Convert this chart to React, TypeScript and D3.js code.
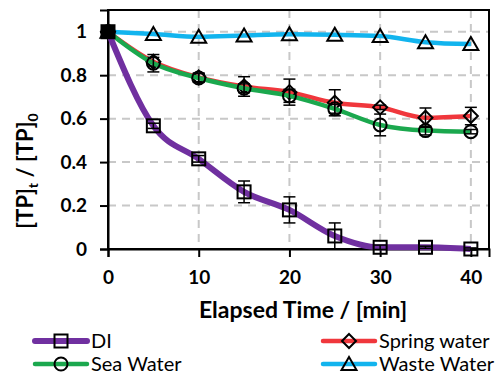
import React, { useEffect, useRef } from "react";
import * as d3 from "d3";

const times = [0, 5, 10, 15, 20, 25, 30, 35, 40];
const seriesNames = ["DI", "Sea Water", "Spring water", "Waste Water"];
const diValues = [1, 0.567, 0.415, 0.263, 0.18, 0.06, 0.008, 0.008, 0.0];
const diErrors = [0, 0.012, 0.015, 0.05, 0.06, 0.06, 0.01, 0.005, 0.005];
const seaValues = [1, 0.855, 0.787, 0.74, 0.705, 0.645, 0.571, 0.545, 0.54];
const seaErrors = [0, 0.04, 0.02, 0.02, 0.03, 0.02, 0.05, 0.02, 0.01];
const springValues = [1, 0.862, 0.79, 0.748, 0.722, 0.673, 0.652, 0.604, 0.612];
const springErrors = [0, 0.02, 0.02, 0.045, 0.06, 0.06, 0.01, 0.045, 0.04];
const wasteValues = [1, 0.99, 0.977, 0.983, 0.988, 0.986, 0.98, 0.952, 0.943];
const yTicks = [0, 0.2, 0.4, 0.6, 0.8, 1];
const xTicks = [0, 10, 20, 30, 40];

const colors = ["#7030A0", "#1BA84E", "#F0373C", "#12B4EE"];
const markers = ["square", "circle", "diamond", "triangle"];
const lineWidths = [6, 4.5, 4.5, 4.5];

function App() {
    const chart = useRef(null);

    useEffect(() => {
        const margin = { top: 10, right: 14, bottom: 126, left: 108 };
        const width = 503 - margin.left - margin.right;
        const height = 375 - margin.top - margin.bottom;
        const font = "Lato, 'Open Sans', sans-serif";

        const root = d3.select(chart.current)
            .attr("width", 503)
            .attr("height", 375);
        const svg = root.append("g")
            .attr("transform", "translate(" + margin.left + "," + margin.top + ")");

        const x = d3.scaleLinear().domain([0, 42]).range([0, width]);
        const y = d3.scaleLinear().domain([0, 1.1]).range([height, 0]);

        // grid
        svg.selectAll(".hgrid")
            .data(yTicks.filter(d => d > 0))
            .enter()
            .append("line")
            .attr("x1", 0).attr("x2", width)
            .attr("y1", d => y(d)).attr("y2", d => y(d))
            .attr("stroke", "#c8c8c8").attr("stroke-width", 2)
            .attr("stroke-dasharray", "8,6");
        svg.selectAll(".vgrid")
            .data(xTicks.filter(d => d > 0))
            .enter()
            .append("line")
            .attr("x1", d => x(d)).attr("x2", d => x(d))
            .attr("y1", 0).attr("y2", height)
            .attr("stroke", "#c8c8c8").attr("stroke-width", 2)
            .attr("stroke-dasharray", "8,6");

        // box
        svg.append("rect")
            .attr("width", width).attr("height", height)
            .attr("fill", "none").attr("stroke", "#000").attr("stroke-width", 2);

        // axes
        const yAxis = svg.append("g")
            .call(d3.axisLeft(y).tickValues(yTicks).tickSize(8).tickPadding(13).tickFormat(d => String(d)));
        const xAxis = svg.append("g")
            .attr("transform", "translate(0," + height + ")")
            .call(d3.axisBottom(x).tickValues(xTicks).tickSize(8).tickPadding(14));
        [yAxis, xAxis].forEach(ax => {
            ax.select(".domain").attr("stroke-width", 2);
            ax.selectAll(".tick line").attr("stroke-width", 2);
            ax.selectAll("text")
                .attr("font-family", font).attr("font-weight", "bold")
                .attr("font-size", 19).attr("fill", "#000");
        });

        // titles
        root.append("text")
            .attr("x", 303).attr("y", 318)
            .attr("text-anchor", "middle")
            .attr("font-family", font).attr("font-weight", "bold").attr("font-size", 23)
            .text("Elapsed Time / [min]");
        const yt = root.append("text")
            .attr("transform", "translate(33,171) rotate(-90)")
            .attr("text-anchor", "middle")
            .attr("font-family", font).attr("font-weight", "bold").attr("font-size", 22);
        yt.append("tspan").text("[TP]");
        yt.append("tspan").attr("font-size", 14).attr("dy", 5).text("t");
        yt.append("tspan").attr("dy", -5).text(" / [TP]");
        yt.append("tspan").attr("font-size", 14).attr("dy", 5).text("0");

        const allValues = [diValues, seaValues, springValues, wasteValues];
        const allErrors = [diErrors, seaErrors, springErrors, null];

        const drawMarker = (g, type, cx, cy, fill) => {
            if (type === "square") {
                g.append("rect").attr("x", cx - 6.5).attr("y", cy - 6.5)
                    .attr("width", 13).attr("height", 13)
                    .attr("fill", fill).attr("stroke", "#000").attr("stroke-width", 2);
            } else if (type === "circle") {
                g.append("circle").attr("cx", cx).attr("cy", cy).attr("r", 6.5)
                    .attr("fill", fill).attr("stroke", "#000").attr("stroke-width", 2);
            } else if (type === "diamond") {
                g.append("path")
                    .attr("d", `M${cx},${cy - 7}L${cx + 7},${cy}L${cx},${cy + 7}L${cx - 7},${cy}Z`)
                    .attr("fill", fill).attr("stroke", "#000").attr("stroke-width", 2);
            } else {
                g.append("path")
                    .attr("d", `M${cx},${cy - 7}L${cx + 7.5},${cy + 6}L${cx - 7.5},${cy + 6}Z`)
                    .attr("fill", fill).attr("stroke", "#000").attr("stroke-width", 2);
            }
        };

        const line = d3.line()
            .x((d, i) => x(times[i]))
            .y(d => y(d))
            .curve(d3.curveMonotoneX);

        // draw in order: waste, spring, sea, DI on top
        [3, 2, 1, 0].forEach(s => {
            const g = svg.append("g");
            g.append("path")
                .datum(allValues[s])
                .attr("d", line)
                .attr("fill", "none")
                .attr("stroke", colors[s])
                .attr("stroke-width", lineWidths[s])
                .attr("stroke-linejoin", "round");
            const errs = allErrors[s];
            if (errs) {
                allValues[s].forEach((v, i) => {
                    if (!errs[i]) return;
                    const cx = x(times[i]);
                    const y0 = y(v - errs[i]);
                    const y1 = y(v + errs[i]);
                    g.append("line").attr("x1", cx).attr("x2", cx).attr("y1", y0).attr("y2", y1)
                        .attr("stroke", "#000").attr("stroke-width", 1.5);
                    [y0, y1].forEach(yy => g.append("line")
                        .attr("x1", cx - 6).attr("x2", cx + 6).attr("y1", yy).attr("y2", yy)
                        .attr("stroke", "#000").attr("stroke-width", 1.5));
                });
            }
            allValues[s].forEach((v, i) => {
                drawMarker(g, markers[s], x(times[i]), y(v), i === 0 ? "#000" : "none");
            });
        });

        // legend
        const legendPos = [[35, 341], [35, 364], [323, 341], [323, 364]];
        seriesNames.forEach((name, s) => {
            const [lx, ly] = legendPos[s];
            const g = root.append("g");
            g.append("line").attr("x1", lx).attr("x2", lx + 52).attr("y1", ly).attr("y2", ly)
                .attr("stroke", colors[s]).attr("stroke-width", lineWidths[s])
                .attr("stroke-linecap", "round");
            drawMarker(g, markers[s], lx + 26, ly, "none");
            g.append("text")
                .attr("x", lx + 56).attr("y", ly + 7)
                .attr("font-family", font).attr("font-size", 20)
                .text(name);
        });

        return () => {
            root.selectAll("*").remove();
        };
    }, []);

    return (
        <svg ref={chart} style={{ position: "absolute", left: 0, top: 0 }}></svg>
    );
}

export default App;
